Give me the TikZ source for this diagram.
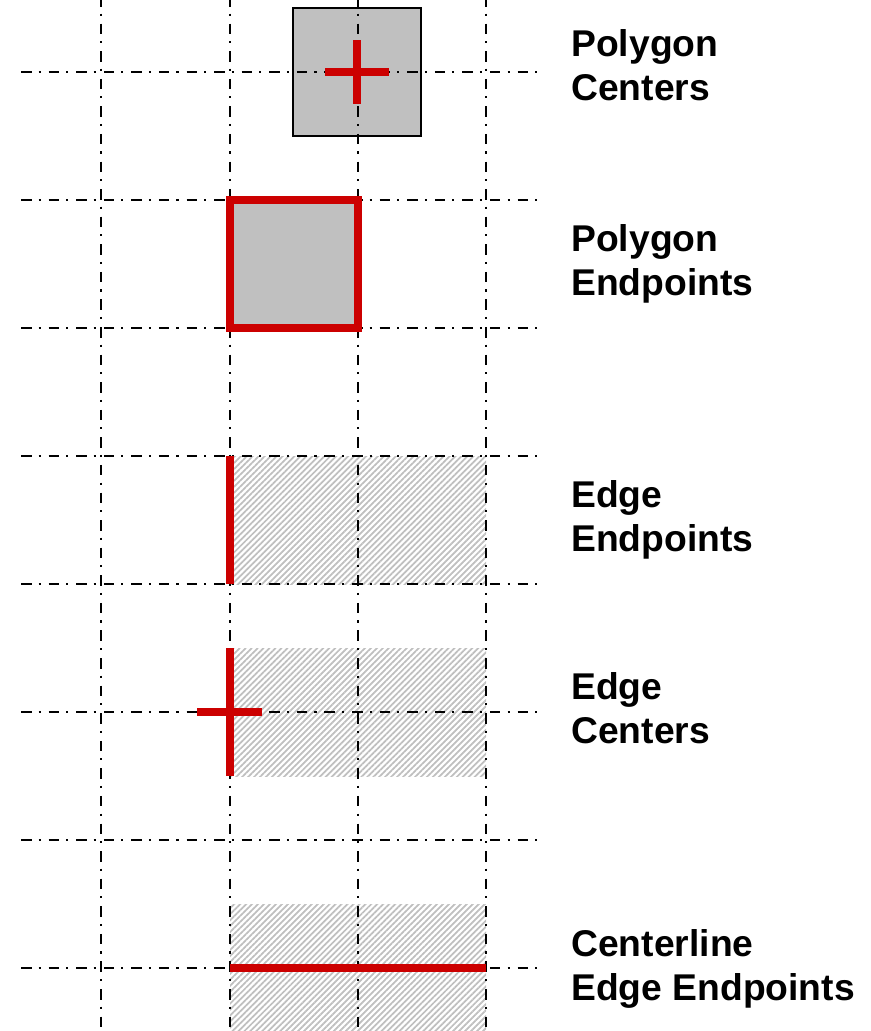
\documentclass[tikz,border=0pt]{standalone}
\usepackage{fontspec}
\setmainfont{Liberation Sans}
\usetikzlibrary{patterns.meta}
\definecolor{snapred}{HTML}{CC0000}
\definecolor{polygray}{HTML}{C0C0C0}

\begin{document}
\begin{tikzpicture}
[x=0.02cm,y=-0.02cm,
    grid/.style={line width=1.25pt,dash pattern=on 6pt off 4pt on 1.2pt off 4.5pt},
    snap/.style={draw=snapred,line width=4pt},
    poly/.style={fill=polygray},
    hatch/.style={pattern={Lines[angle=45,distance=2.4pt,line width=1pt]},pattern color=gray!50},
    lab/.style={anchor=base west,align=left,inner sep=0pt,
        font=\fontsize{21.2}{25}\selectfont\bfseries}]
\useasboundingbox (0,0) rectangle (871,1031);
%%%%%%%%%%
%% shapes under the grid
\fill[poly] (293,8) rectangle (421,136);
\fill[poly] (230,200) rectangle (358,328);
\fill[hatch] (230,456) rectangle (486,584);
\fill[hatch] (230,648) rectangle (486,776);
\fill[hatch] (230,904) rectangle (486,1040);
%% grid
\foreach \x in {101,230,358,486}
    \draw[grid] (\x,-4) -- (\x,1040);
\foreach \y in {72,200,328,456,584,712,840,968}
    \draw[grid] (21,\y) -- (544,\y);
\draw[line width=1.1pt] (293,8) rectangle (421,136);
%% snap marks
\draw[snap] (325,72) -- (389,72);
\draw[snap] (357,40) -- (357,104);
\draw[snap] (230,200) rectangle (358,328);
\draw[snap] (230,456) -- (230,584);
\draw[snap] (230,648) -- (230,776);
\draw[snap] (197,712) -- (262,712);
\draw[snap] (230,968) -- (486,968);
%% labels (base is the last line)
\node (polyctr) [lab] at (571,100) {Polygon\\Centers};
\node (polyend) [lab] at (571,295) {Polygon\\Endpoints};
\node (edgeend) [lab] at (571,551) {Edge\\Endpoints};
\node (edgectr) [lab] at (571,743) {Edge\\Centers};
\node (clend) [lab] at (571,1000) {Centerline\\Edge Endpoints};
\end{tikzpicture}
\end{document}
